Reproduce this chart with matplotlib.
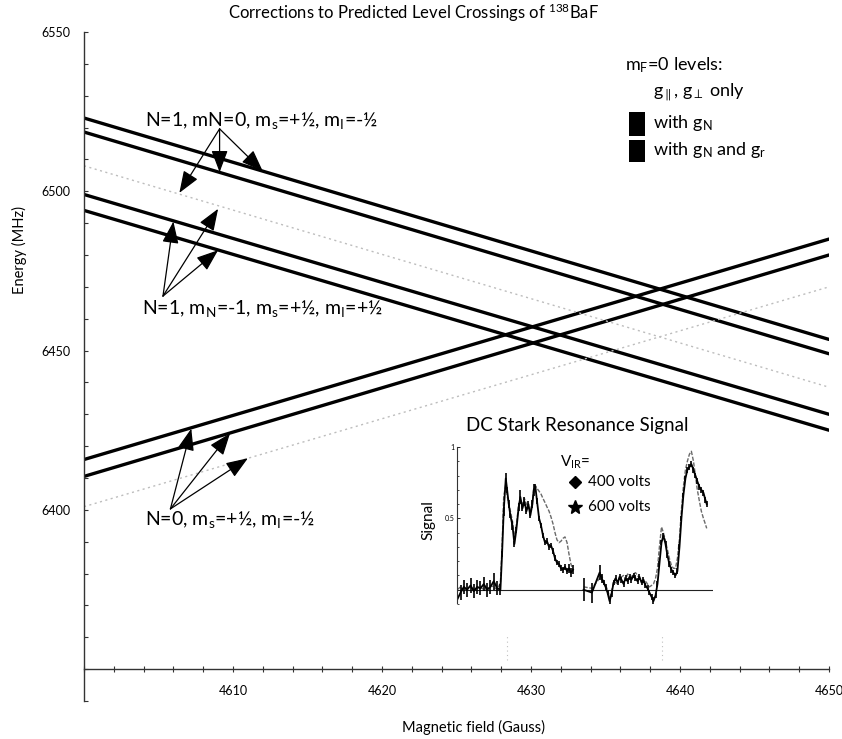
import numpy as np
import matplotlib
matplotlib.use("Agg")
import matplotlib.pyplot as plt
from matplotlib.patches import Rectangle
from matplotlib.ticker import MultipleLocator, FixedLocator

plt.rcParams['font.family'] = ['Lato', 'DejaVu Sans']
plt.rcParams['mathtext.fontset'] = 'custom'
plt.rcParams['mathtext.rm'] = 'Lato'
plt.rcParams['mathtext.it'] = 'Lato:italic'
plt.rcParams['mathtext.bf'] = 'Lato:bold'

# ---- level energies (MHz) at the two ends of the field scan (Gauss) ----
field_ends = [4600, 4650]
n1_mn0_gr = [6523.0, 6453.5]     # N=1, mN=0 with g_N and g_r
n1_mn0_gn = [6518.6, 6449.0]     # N=1, mN=0 with g_N
n1_plain = [6508.0, 6438.5]      # N=1, g_par / g_perp only
n1_mnm1_gr = [6499.0, 6430.0]    # N=1, mN=-1 with g_N and g_r
n1_mnm1_gn = [6494.0, 6425.0]    # N=1, mN=-1 with g_N
n0_gr = [6415.8, 6485.0]         # N=0 with g_N and g_r
n0_gn = [6410.5, 6480.0]         # N=0 with g_N
n0_plain = [6401.0, 6470.0]      # N=0, g_par / g_perp only

crossing_fields = [4628.4, 4638.8]

# ---- DC Stark resonance scan ----
stark_field = [
    4625.01, 4625.24, 4625.46, 4625.68, 4625.91, 4626.13, 4626.36, 4626.58,
    4626.80, 4627.03, 4627.25, 4627.47, 4627.70, 4627.92, 4628.03, 4628.14,
    4628.28, 4628.37, 4628.48, 4628.59, 4628.73, 4628.86, 4628.99, 4629.15,
    4629.26, 4629.40, 4629.53, 4629.67, 4629.80, 4629.93, 4630.07, 4630.16,
    4630.27, 4630.38, 4630.52, 4630.65, 4630.78, 4630.92, 4631.05, 4631.19,
    4631.32, 4631.46, 4631.59, 4631.72, 4631.86, 4631.99, 4632.13, 4632.26,
    4632.40, 4632.53, 4632.66, 4632.80,
    np.nan,
    4633.51, 4634.07, 4634.59, 4634.72, 4634.86, 4634.99, 4635.12, 4635.26,
    4635.39, 4635.53, 4635.66, 4635.80, 4635.93, 4636.06, 4636.20, 4636.33,
    4636.47, 4636.60, 4636.73, 4636.87, 4637.00, 4637.14, 4637.27, 4637.41,
    4637.54, 4637.67, 4637.81, 4637.94, 4638.08, 4638.21, 4638.35, 4638.48,
    4638.61, 4638.75, 4638.88, 4639.02, 4639.15, 4639.28, 4639.42, 4639.55,
    4639.69, 4639.82, 4639.96, 4640.09, 4640.22, 4640.36, 4640.49, 4640.63,
    4640.76, 4640.90, 4641.03, 4641.16, 4641.30, 4641.43, 4641.57, 4641.70,
    4641.79,
]

signal_600 = [
    -0.07, -0.02, 0.02, 0.00, 0.03, -0.01, 0.02, 0.01,
    0.04, 0.00, 0.02, 0.06, 0.01, 0.00, 0.25, 0.55,
    0.78, 0.70, 0.60, 0.52, 0.45, 0.32, 0.42, 0.58,
    0.65, 0.57, 0.62, 0.55, 0.60, 0.52, 0.60, 0.70,
    0.72, 0.62, 0.50, 0.45, 0.38, 0.33, 0.34, 0.30,
    0.31, 0.27, 0.22, 0.19, 0.18, 0.15, 0.14, 0.16,
    0.13, 0.15, 0.12, 0.14,
    np.nan,
    0.00, -0.02, 0.12, 0.08, 0.05, 0.02, -0.02, -0.08,
    -0.03, 0.05, 0.08, 0.05, 0.09, 0.07, 0.04, 0.08,
    0.06, 0.09, 0.07, 0.10, 0.08, 0.06, 0.09, 0.05,
    0.07, 0.03, 0.01, -0.02, -0.05, -0.08, -0.04, 0.04,
    0.18, 0.33, 0.38, 0.32, 0.24, 0.18, 0.14, 0.12,
    0.10, 0.13, 0.30, 0.50, 0.66, 0.78, 0.84, 0.86,
    0.88, 0.84, 0.80, 0.76, 0.72, 0.70, 0.68, 0.63,
    0.60,
]

signal_600_err = [
    0.05, 0.05, 0.05, 0.05, 0.05, 0.05, 0.05, 0.05,
    0.05, 0.05, 0.05, 0.06, 0.05, 0.04, 0.02, 0.03,
    0.04, 0.02, 0.03, 0.02, 0.03, 0.02, 0.02, 0.03,
    0.05, 0.02, 0.03, 0.02, 0.02, 0.02, 0.03, 0.04,
    0.02, 0.02, 0.02, 0.02, 0.02, 0.02, 0.02, 0.02,
    0.02, 0.02, 0.02, 0.02, 0.02, 0.02, 0.02, 0.02,
    0.02, 0.03, 0.03, 0.03,
    np.nan,
    0.08, 0.07, 0.05, 0.03, 0.02, 0.02, 0.02, 0.02,
    0.02, 0.02, 0.02, 0.02, 0.02, 0.02, 0.02, 0.02,
    0.02, 0.02, 0.02, 0.02, 0.02, 0.02, 0.02, 0.02,
    0.02, 0.02, 0.02, 0.02, 0.02, 0.03, 0.02, 0.02,
    0.02, 0.02, 0.02, 0.02, 0.02, 0.02, 0.02, 0.02,
    0.02, 0.02, 0.02, 0.02, 0.02, 0.02, 0.02, 0.02,
    0.02, 0.02, 0.02, 0.02, 0.02, 0.02, 0.02, 0.02,
    0.02,
]

signal_400 = [
    0.00, 0.02, -0.01, 0.01, 0.02, 0.00, 0.01, 0.02,
    0.00, 0.01, 0.03, 0.02, 0.00, 0.05, 0.30, 0.65,
    0.74, 0.66, 0.60, 0.55, 0.48, 0.36, 0.45, 0.60,
    0.62, 0.60, 0.64, 0.60, 0.58, 0.55, 0.62, 0.70,
    0.73, 0.71, 0.69, 0.67, 0.64, 0.61, 0.58, 0.55,
    0.51, 0.46, 0.40, 0.35, 0.33, 0.34, 0.36, 0.37,
    0.33, 0.25, 0.18, 0.14,
    np.nan,
    0.02, 0.01, 0.08, 0.10, 0.06, 0.03, 0.00, -0.05,
    -0.02, 0.06, 0.05, 0.04, 0.08, 0.09, 0.10, 0.07,
    0.11, 0.10, 0.09, 0.11, 0.12, 0.10, 0.08, 0.06,
    0.05, 0.06, 0.04, 0.02, 0.03, 0.04, 0.08, 0.15,
    0.30, 0.44, 0.40, 0.34, 0.28, 0.22, 0.17, 0.15,
    0.15, 0.22, 0.36, 0.56, 0.72, 0.84, 0.90, 0.95,
    0.97, 0.90, 0.80, 0.70, 0.62, 0.55, 0.50, 0.46,
    0.43,
]

# ---- annotation labels ----
label_n1_mn0 = r"N=1, mN=0, m$_\mathrm{s}$=+½, m$_\mathrm{I}$=-½"
label_n1_mnm1 = r"N=1, m$_\mathrm{N}$=-1, m$_\mathrm{s}$=+½, m$_\mathrm{I}$=+½"
label_n0 = r"N=0, m$_\mathrm{s}$=+½, m$_\mathrm{I}$=-½"

W, H = 842, 739
fig = plt.figure(figsize=(W / 100, H / 100), dpi=100)


def fx(px):
    return px / W


def fy(py):
    return 1 - py / H


ax = fig.add_axes([fx(84), fy(701), (829 - 84) / W, (701 - 32) / H])
ax.set_xlim(4600, 4650)
ax.set_ylim(6340, 6550)

line_kw = dict(color='black', lw=2.4, solid_capstyle='round')
dot_kw = dict(color='#bdbdbd', lw=1.0, ls=(0, (1.5, 2.5)))
for lev in (n1_mn0_gr, n1_mn0_gn, n1_mnm1_gr, n1_mnm1_gn, n0_gr, n0_gn):
    ax.plot(field_ends, lev, **line_kw)
for lev in (n1_plain, n0_plain):
    ax.plot(field_ends, lev, **dot_kw)

for b in crossing_fields:
    ax.plot([b, b], [6353, 6361], color='#c0c0c0', lw=0.8, ls=(0, (1, 3)))

# axes styling
for s in ('top', 'right'):
    ax.spines[s].set_visible(False)
ax.spines['bottom'].set_position(('data', 6350))
ax.spines['left'].set_color('#333333')
ax.spines['bottom'].set_color('#333333')
ax.spines['left'].set_linewidth(1.0)
ax.spines['bottom'].set_linewidth(1.0)

ax.xaxis.set_major_locator(FixedLocator([4610, 4620, 4630, 4640, 4650]))
ax.xaxis.set_minor_locator(MultipleLocator(2))
ax.yaxis.set_major_locator(FixedLocator([6400, 6450, 6500, 6550]))
ax.yaxis.set_minor_locator(MultipleLocator(10))
ax.tick_params(axis='x', which='both', direction='inout', length=5, width=0.8,
               color='#333333', labelsize=9, pad=9)
ax.tick_params(axis='y', which='both', direction='in', length=3, width=0.8,
               color='#333333', labelsize=9, pad=10)

fig.text(fx(413), fy(13), r"Corrections to Predicted Level Crossings of $^{138}$BaF",
         ha='center', va='center', fontsize=12)
fig.text(fx(474), fy(727), "Magnetic field (Gauss)", ha='center', va='center', fontsize=10.5)
fig.text(fx(19), fy(250), "Energy (MHz)", ha='center', va='center', rotation=90, fontsize=10.5)

# annotations with arrows
arrow_kw = dict(arrowstyle='-|>,head_length=0.45,head_width=0.17', color='black',
                lw=0.9, mutation_scale=30, shrinkA=0, shrinkB=0)
ax.text(4611.9, 6522.3, label_n1_mn0, ha='center', va='center', fontsize=14)
for tip in [(4606.4, 6499.5), (4609.1, 6506.0), (4612.0, 6506.3)]:
    ax.annotate('', xy=tip, xytext=(4609.1, 6519.6), arrowprops=arrow_kw)

ax.text(4612.0, 6463.1, label_n1_mnm1, ha='center', va='center', fontsize=14)
for tip in [(4606.0, 6490.5), (4609.0, 6494.5), (4609.0, 6481.5)]:
    ax.annotate('', xy=tip, xytext=(4605.3, 6467.1), arrowprops=arrow_kw)

ax.text(4609.8, 6397.1, label_n0, ha='center', va='center', fontsize=14)
for tip in [(4607.2, 6425.5), (4609.8, 6424.0), (4611.0, 6416.2)]:
    ax.annotate('', xy=tip, xytext=(4605.8, 6400.3), arrowprops=arrow_kw)

# legend block
fig.text(fx(625), fy(65), r"m$_\mathrm{F}$=0 levels:", ha='left', va='center', fontsize=13)
fig.text(fx(653), fy(93), r"g$_{\parallel}$, g$_{\perp}$ only", ha='left', va='center', fontsize=13)
fig.text(fx(653), fy(123), r"with g$_\mathrm{N}$", ha='left', va='center', fontsize=13)
fig.text(fx(653), fy(150), r"with g$_\mathrm{N}$ and g$_\mathrm{r}$", ha='left', va='center', fontsize=13)
for top, bot in [(112, 136), (140, 162)]:
    fig.patches.append(Rectangle((fx(629), fy(bot)), (645 - 629) / W, (bot - top) / H,
                                 transform=fig.transFigure, facecolor='black',
                                 edgecolor='none', figure=fig))

# ---- inset: DC Stark resonance signal ----
axi = fig.add_axes([fx(457), fy(604), (712.8 - 457) / W, (604 - 447) / H])
axi.set_xlim(4625.0, 4642.2)
axi.set_ylim(-0.1, 1.0)
axi.patch.set_alpha(0)
for s in ('top', 'right', 'bottom'):
    axi.spines[s].set_visible(False)
axi.spines['left'].set_bounds(-0.09, 1.0)
axi.spines['left'].set_linewidth(0.8)
axi.spines['left'].set_color('#333333')
axi.set_xticks([])
axi.yaxis.set_major_locator(FixedLocator([0.5, 1.0]))
axi.yaxis.set_minor_locator(MultipleLocator(0.1))
axi.set_yticklabels(['0.5', '1'])
axi.tick_params(axis='y', which='major', direction='in', length=2, width=0.6, labelsize=5, pad=2)
axi.tick_params(axis='y', which='minor', direction='in', length=1.2, width=0.5)

axi.axhline(0, color='#222222', lw=0.8, xmin=0, xmax=1)
axi.plot(stark_field, signal_400, color='#6a6a6a', lw=1.0, ls=(0, (3, 1.2)))
axi.errorbar(stark_field, signal_600, yerr=signal_600_err, color='black', lw=1.3,
             elinewidth=1.2, capsize=0)

fig.text(fx(577), fy(425), "DC Stark Resonance Signal", ha='center', va='center', fontsize=13.5)
fig.text(fx(428), fy(520), "Signal", ha='center', va='center', rotation=90, fontsize=11)

axi.text(0.404, 0.90, r"V$_\mathrm{IR}$=", transform=axi.transAxes, ha='left', va='center', fontsize=11)
axi.plot([0.463], [0.777], marker='D', ms=6.5, color='black', transform=axi.transAxes, clip_on=False)
axi.text(0.514, 0.777, "400 volts", transform=axi.transAxes, ha='left', va='center', fontsize=11)
axi.plot([0.463], [0.618], marker='*', ms=10, color='black', transform=axi.transAxes, clip_on=False)
axi.text(0.514, 0.618, "600 volts", transform=axi.transAxes, ha='left', va='center', fontsize=11)

fig.savefig("out.png", dpi=100)
